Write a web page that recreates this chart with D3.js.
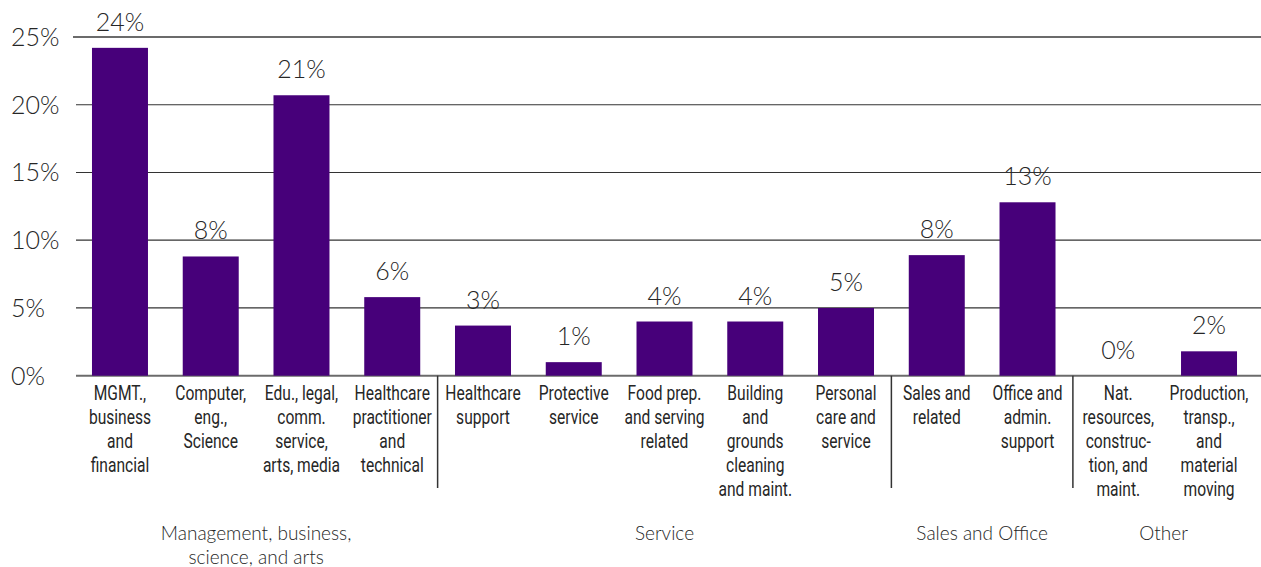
<!DOCTYPE html>
<html>
<head>
<meta charset="utf-8">
<script src="https://cdn.jsdelivr.net/npm/d3@7"></script>
<style>
  body { margin: 0; background: #fff; }
  svg { display: block; }
</style>
</head>
<body>
<div id="chart"></div>
<script>
// occupations (one bar each), labels split into lines
const categories = [
  ["MGMT.,", "business", "and", "financial"],
  ["Computer,", "eng.,", "Science"],
  ["Edu., legal,", "comm.", "service,", "arts, media"],
  ["Healthcare", "practitioner", "and", "technical"],
  ["Healthcare", "support"],
  ["Protective", "service"],
  ["Food prep.", "and serving", "related"],
  ["Building", "and", "grounds", "cleaning", "and maint."],
  ["Personal", "care and", "service"],
  ["Sales and", "related"],
  ["Office and", "admin.", "support"],
  ["Nat.", "resources,", "construc-", "tion, and", "maint."],
  ["Production,", "transp.,", "and", "material", "moving"]
]
const shares = [24.2, 8.8, 20.7, 5.8, 3.7, 1.0, 4.0, 4.0, 5.0, 8.9, 12.8, 0, 1.8] // bar heights (%)
const shareLabels = ["24%", "8%", "21%", "6%", "3%", "1%", "4%", "4%", "5%", "8%", "13%", "0%", "2%"]
const groups = [
  ["Management, business,", "science, and arts"],
  ["Service"],
  ["Sales and Office"],
  ["Other"]
]
const groupSizes = [4, 5, 2, 2]
const yTicks = [0, 5, 10, 15, 20, 25]

const graphWidth = 1261
const graphHeight = 567

const svg = d3.select("#chart")
  .append("svg")
  .attr("width", graphWidth)
  .attr("height", graphHeight)

const ids = categories.map((c, i) => i)

// X scale: one band per occupation
const x = d3.scaleBand()
  .domain(ids)
  .range([74.6, 1254.4])
  .paddingInner(0.383)
  .paddingOuter(0.1915)

// Y scale
const y = d3.scaleLinear()
  .domain([0, 25])
  .range([375.7, 37])

const numFont = "Lato, 'Open Sans', sans-serif"
const narrowFont = "Roboto, 'DejaVu Sans Condensed', sans-serif"
const textColor = "#262626"

// GRIDLINES
svg.append("g")
  .selectAll("line")
  .data(yTicks)
  .enter()
  .append("line")
  .attr("x1", (d) => d === 25 ? 73 : 76)
  .attr("x2", graphWidth)
  .attr("y1", (d) => y(d))
  .attr("y2", (d) => y(d))
  .attr("stroke", (d) => (d === 0 || d === 25) ? "#6b6b6b" : "#333")
  .attr("stroke-width", (d) => (d === 0 || d === 25) ? 2 : 1.2)

// Y TICK LABELS (left aligned)
svg.append("g")
  .selectAll("text")
  .data(yTicks)
  .enter()
  .append("text")
  .attr("x", 11)
  .attr("y", (d) => y(d) + 9)
  .attr("font-family", numFont)
  .attr("font-weight", 300)
  .attr("font-size", 25)
  .attr("fill", textColor)
  .text((d) => d + "%")

// BARS
svg.append("g")
  .selectAll("rect")
  .data(ids)
  .enter()
  .append("rect")
  .attr("x", (i) => x(i))
  .attr("y", (i) => y(shares[i]))
  .attr("width", x.bandwidth())
  .attr("height", (i) => y(0) - y(shares[i]))
  .attr("fill", "#47007a")

// VALUE LABELS
svg.append("g")
  .selectAll("text")
  .data(ids)
  .enter()
  .append("text")
  .attr("x", (i) => x(i) + x.bandwidth() / 2)
  .attr("y", (i) => y(shares[i]) - 17)
  .attr("text-anchor", "middle")
  .attr("font-family", numFont)
  .attr("font-weight", 300)
  .attr("font-size", 25)
  .attr("fill", textColor)
  .text((i) => shareLabels[i])

// CATEGORY LABELS (condensed look: squeeze horizontally)
const catLabel = svg.append("g")
  .selectAll("text")
  .data(ids)
  .enter()
  .append("text")
  .attr("transform", (i) => "translate(" + (x(i) + x.bandwidth() / 2) + ",0) scale(0.8,1)")
  .attr("text-anchor", "middle")
  .attr("font-family", narrowFont)
  .attr("font-size", 19.5)
  .attr("fill", textColor)

catLabel.selectAll("tspan")
  .data((i) => categories[i])
  .enter()
  .append("tspan")
  .attr("x", 0)
  .attr("y", (d, k) => 400 + k * 24)
  .text((d) => d)

// GROUP SEPARATORS AND LABELS
let start = 0
const groupInfo = groupSizes.map((n, g) => {
  const info = { g, first: start, last: start + n - 1 }
  start += n
  return info
})

svg.append("g")
  .selectAll("line")
  .data(groupInfo.slice(1))
  .enter()
  .append("line")
  .attr("x1", (d) => x(d.first) - x.step() * x.paddingInner() / 2)
  .attr("x2", (d) => x(d.first) - x.step() * x.paddingInner() / 2)
  .attr("y1", y(0))
  .attr("y2", 488)
  .attr("stroke", "#333")
  .attr("stroke-width", 1.5)

const groupLabel = svg.append("g")
  .selectAll("text")
  .data(groupInfo)
  .enter()
  .append("text")
  .attr("text-anchor", "middle")
  .attr("font-family", numFont)
  .attr("font-weight", 300)
  .attr("font-size", 19)
  .attr("fill", textColor)

groupLabel.selectAll("tspan")
  .data((d) => groups[d.g].map((line) => ({ d, line })))
  .enter()
  .append("tspan")
  .attr("x", (t) => (x(t.d.first) + x(t.d.last) + x.bandwidth()) / 2)
  .attr("y", (t, k) => 540 + k * 24)
  .text((t) => t.line)
</script>
</body>
</html>
